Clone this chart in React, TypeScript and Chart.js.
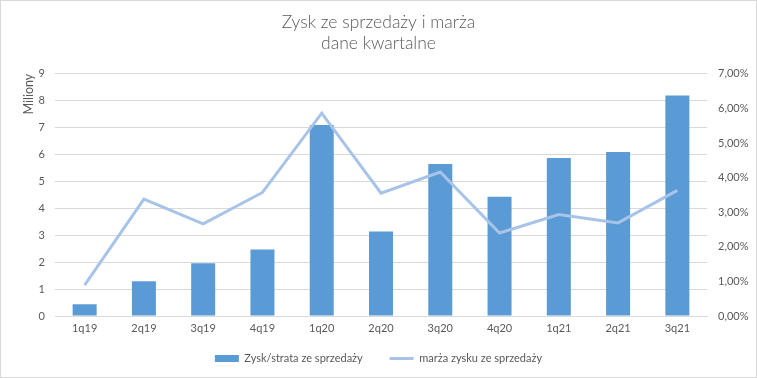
import React, { useEffect, useRef } from "react";
import { Chart, registerables } from "chart.js";

Chart.register(...registerables);

const categories = ["1q19", "2q19", "3q19", "4q19", "1q20", "2q20", "3q20", "4q20", "1q21", "2q21", "3q21"];
const profitMillions = [0.44, 1.29, 1.96, 2.47, 7.1, 3.14, 5.65, 4.43, 5.87, 6.09, 8.19];
const marginPercent = [0.89, 3.38, 2.66, 3.57, 5.86, 3.55, 4.16, 2.4, 2.93, 2.69, 3.63];
const titleLines = ["Zysk ze sprzedaży i marża", "dane kwartalne"];
const leftTitle = "Miliony";
const barLabel = "Zysk/strata ze sprzedaży";
const lineLabel = "marża zysku ze sprzedaży";

const FONT = "Lato, 'Open Sans', sans-serif";
const TEXT = "#595959";
const GRID = "#D9D9D9";

const frame = {
  id: "frame",
  beforeDraw(chart: any) {
    const { ctx, width, height } = chart;
    ctx.save();
    ctx.fillStyle = "#ffffff";
    ctx.fillRect(0, 0, width, height);
    ctx.strokeStyle = GRID;
    ctx.lineWidth = 1;
    ctx.strokeRect(0.5, 0.5, width - 1, height - 1);
    ctx.restore();
  },
};

export default function App() {
  const ref = useRef<HTMLCanvasElement | null>(null);

  useEffect(() => {
    document.body.style.margin = "0";
    const canvas = ref.current;
    if (!canvas) return;
    const chart = new Chart(canvas, {
      type: "bar",
      data: {
        labels: categories,
        datasets: [
          {
            type: "bar",
            label: barLabel,
            data: profitMillions,
            backgroundColor: "#5B9BD5",
            borderWidth: 0,
            yAxisID: "y",
            order: 2,
            pointStyle: "rect",
            categoryPercentage: 1,
            barPercentage: 0.405,
          } as any,
          {
            type: "line",
            label: lineLabel,
            data: marginPercent,
            borderColor: "#A7C3E8",
            backgroundColor: "#A7C3E8",
            borderWidth: 3,
            pointRadius: 0,
            tension: 0,
            yAxisID: "y1",
            order: 1,
            pointStyle: "line",
          } as any,
        ],
      },
      options: {
        responsive: false,
        animation: false,
        layout: { padding: { left: 0, right: 0, top: 0, bottom: 4 } },
        plugins: {
          title: {
            display: true,
            text: titleLines,
            color: TEXT,
            font: { family: FONT, size: 17.5, weight: 300 as any, lineHeight: 1.25 },
            padding: { top: 11, bottom: 19 },
          },
          legend: {
            position: "bottom",
            labels: {
              color: TEXT,
              font: { family: FONT, size: 11 },
              usePointStyle: true,
              pointStyleWidth: 24,
              boxWidth: 24,
              boxHeight: 7,
              padding: 10,
              sort: (a: any, b: any) => a.datasetIndex - b.datasetIndex,
              generateLabels: (chart: any) => {
                const items = Chart.defaults.plugins.legend.labels.generateLabels(chart);
                items.forEach((it: any) => {
                  if (it.datasetIndex === 0) it.text = it.text + "      ";
                });
                return items;
              },
            },
          },
          tooltip: { enabled: false },
        },
        scales: {
          x: {
            grid: { display: false, drawTicks: false },
            border: { display: true, color: GRID },
            ticks: { color: TEXT, font: { family: FONT, size: 11 }, padding: 6 },
            afterFit: (s: any) => {
              s.height = 27;
            },
          },
          y: {
            position: "left",
            min: 0,
            max: 9,
            ticks: { stepSize: 1, color: TEXT, font: { family: FONT, size: 11 }, padding: 10 },
            grid: { color: GRID, drawTicks: false },
            border: { display: false },
            title: {
              display: true,
              text: leftTitle,
              align: "end",
              color: TEXT,
              font: { family: FONT, size: 12.5 },
              padding: { top: 21, bottom: 0 },
            },
            afterFit: (s: any) => {
              s.width = 55;
            },
          },
          y1: {
            position: "right",
            min: 0,
            max: 7,
            ticks: {
              stepSize: 1,
              color: TEXT,
              font: { family: FONT, size: 11 },
              padding: 11,
              callback: (v: any) => Number(v).toFixed(2).replace(".", ",") + "%",
            },
            grid: { display: false, drawTicks: false },
            border: { display: false },
            afterFit: (s: any) => {
              s.width = 50;
            },
          },
        },
      },
      plugins: [frame],
    });
    return () => chart.destroy();
  }, []);

  return (
    <div style={{ width: 757, height: 378 }}>
      <canvas ref={ref} width={757} height={378} style={{ display: "block" }} />
    </div>
  );
}
